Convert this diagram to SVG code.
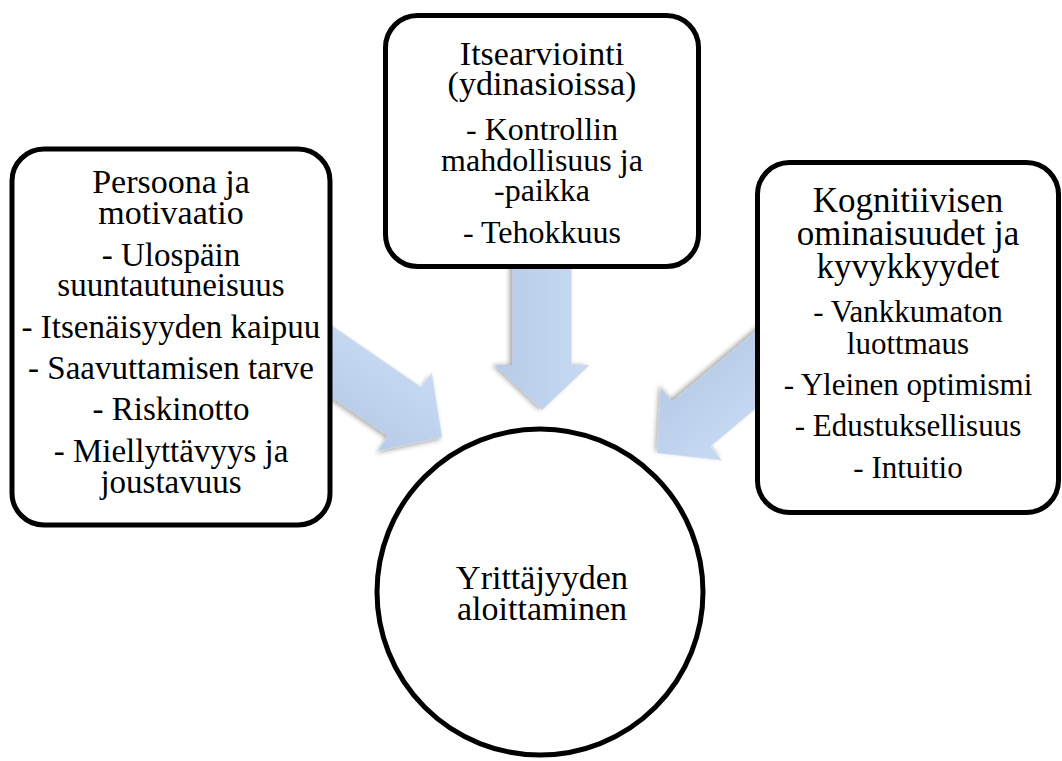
<svg xmlns="http://www.w3.org/2000/svg" width="1062" height="761" viewBox="0 0 1062 761">
<defs>
<linearGradient id="ag" x1="0" y1="0" x2="0" y2="1">
<stop offset="0" stop-color="#c8daf2"/>
<stop offset="1" stop-color="#b6cbe8"/>
</linearGradient>
<filter id="sh" x="-20%" y="-20%" width="140%" height="140%">
<feGaussianBlur in="SourceAlpha" stdDeviation="2.5"/>
<feOffset dx="0" dy="3" result="b"/>
<feComponentTransfer><feFuncA type="linear" slope="0.35"/></feComponentTransfer>
<feMerge><feMergeNode/><feMergeNode in="SourceGraphic"/></feMerge>
</filter>
<path id="arr" d="M-160,-29.5 L-45,-29.5 L-45,-47.5 L0,0 L-45,47.5 L-45,29.5 L-160,29.5 Z"/>
</defs>
<style>
.box{fill:#fff;stroke:#000;stroke-width:5}
.arrow{fill:url(#ag);filter:url(#sh)}
.t{font-size:34px}
.i{font-size:32px}
.il{font-size:33px}
.tr{font-size:35px}
.ir{font-size:31px}
</style>
<rect width="1062" height="761" fill="#fff"/>
<g id="connectors">
<use href="#arr" class="arrow" transform="translate(442,437) rotate(34.5)"/>
<use href="#arr" class="arrow" transform="translate(542,410) rotate(90)"/>
<use href="#arr" class="arrow" transform="translate(657,453) rotate(140)"/>
</g>
<g font-family="Liberation Serif, DejaVu Serif, serif" fill="#000" text-anchor="middle">
<g id="persoona">
<rect class="box" x="12" y="149" width="318" height="376" rx="32"/>
<text class="t" x="171" y="193">Persoona ja</text>
<text class="t" x="171" y="224">motivaatio</text>
<text class="il" x="171" y="266">- Ulospäin</text>
<text class="il" x="171" y="296">suuntautuneisuus</text>
<text class="il" x="171" y="338">- Itsenäisyyden kaipuu</text>
<text class="il" x="171" y="379">- Saavuttamisen tarve</text>
<text class="il" x="171" y="420">- Riskinotto</text>
<text class="il" x="171" y="462">- Miellyttävyys ja</text>
<text class="il" x="171" y="493">joustavuus</text>
</g>
<g id="itsearviointi">
<rect class="box" x="385.5" y="15.5" width="313" height="251" rx="32"/>
<text class="t" x="542" y="65">Itsearviointi</text>
<text class="t" x="542" y="95">(ydinasioissa)</text>
<text class="i" x="542" y="140">- Kontrollin</text>
<text class="i" x="542" y="171">mahdollisuus ja</text>
<text class="i" x="542" y="201">-paikka</text>
<text class="i" x="542" y="243">- Tehokkuus</text>
</g>
<g id="kognitiivisen">
<rect class="box" x="757.5" y="162.5" width="301" height="350" rx="32"/>
<text class="tr" x="908" y="212">Kognitiivisen</text>
<text class="tr" x="908" y="245">ominaisuudet ja</text>
<text class="tr" x="908" y="278">kyvykkyydet</text>
<text class="ir" x="908" y="322">- Vankkumaton</text>
<text class="ir" x="908" y="354">luottmaus</text>
<text class="ir" x="908" y="395">- Yleinen optimismi</text>
<text class="ir" x="908" y="436">- Edustuksellisuus</text>
<text class="ir" x="908" y="478">- Intuitio</text>
</g>
<g id="yrittajyys">
<circle class="box" cx="540" cy="592" r="163"/>
<text class="t" x="542" y="589">Yrittäjyyden</text>
<text class="t" x="542" y="620">aloittaminen</text>
</g>
</g>
</svg>
